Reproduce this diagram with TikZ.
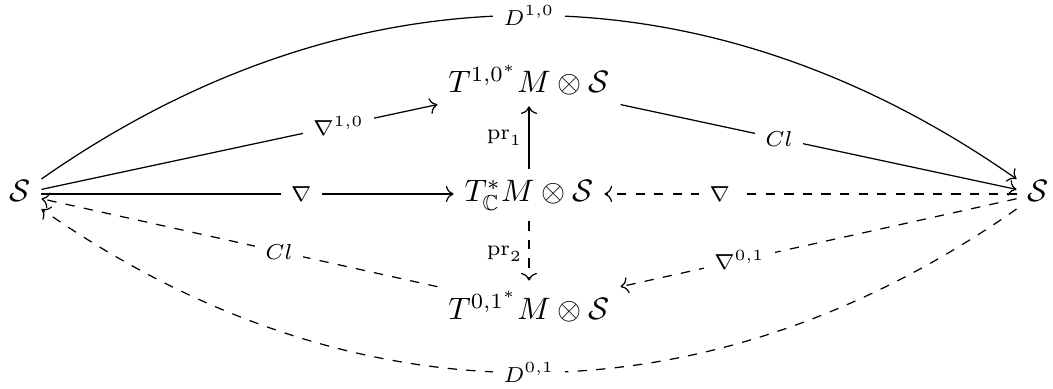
\documentclass[tikz,border=0pt]{standalone}
\usepackage{amssymb}
\usetikzlibrary{cd,arrows.meta}
\begin{document}
\begin{tikzpicture}[x=0.3229pt,y=-0.3229pt,
  obj/.style={shape=asymmetrical rectangle, inner sep=0.3333em},
  lab/.style={fill=white, inner sep=3.3pt, font=\scriptsize},
  side/.style={inner sep=2pt, font=\scriptsize},
  arr/.style={-{Computer Modern Rightarrow}, line width=0.4pt},
  dsh/.style={arr, dashed}]
\useasboundingbox (0,0) rectangle (1053,389);
\node[obj] (L) at (20,194) {$\mathcal{S}$};
\node[obj] (R) at (1038,194) {$\mathcal{S}$};
\node[obj] (T) at (529,85) {$T^{1,0^*}M\otimes\mathcal{S}$};
\node[obj] (M) at (529,194) {$T^*_{\mathbb{C}}M\otimes\mathcal{S}$};
\node[shape=rectangle, inner sep=0.3333em, text height=9pt, text depth=1pt] (B) at (529,307) {$T^{0,1^*}M\otimes\mathcal{S}$};
\draw[arr] (L) to[bend left=35] node[lab,pos=0.5]{$D^{1,0}$} (R);
\draw[arr] (L) -- node[lab,pos=0.75]{$\nabla^{1,0}$} (T);
\draw[arr] (T) -- node[lab,pos=0.4]{$Cl$} (R);
\draw[arr] (L) -- node[lab,pos=0.63]{$\nabla$} (M);
\draw[arr] (M) -- node[side,left]{$\mathrm{pr}_1$} (T);
\draw[dsh] (R) -- node[lab,pos=0.72]{$\nabla$} (M);
\draw[dsh] (M) -- node[side,left,pos=0.55]{$\mathrm{pr}_2$} (B);
\draw[dsh] (R) -- node[lab,pos=0.7]{$\nabla^{0,1}$} (B);
\draw[dsh] (B) -- node[lab,pos=0.4]{$Cl$} (L);
\draw[dsh] (R) to[bend left=35] node[lab,pos=0.5]{$D^{0,1}$} (L);
\end{tikzpicture}
\end{document}
